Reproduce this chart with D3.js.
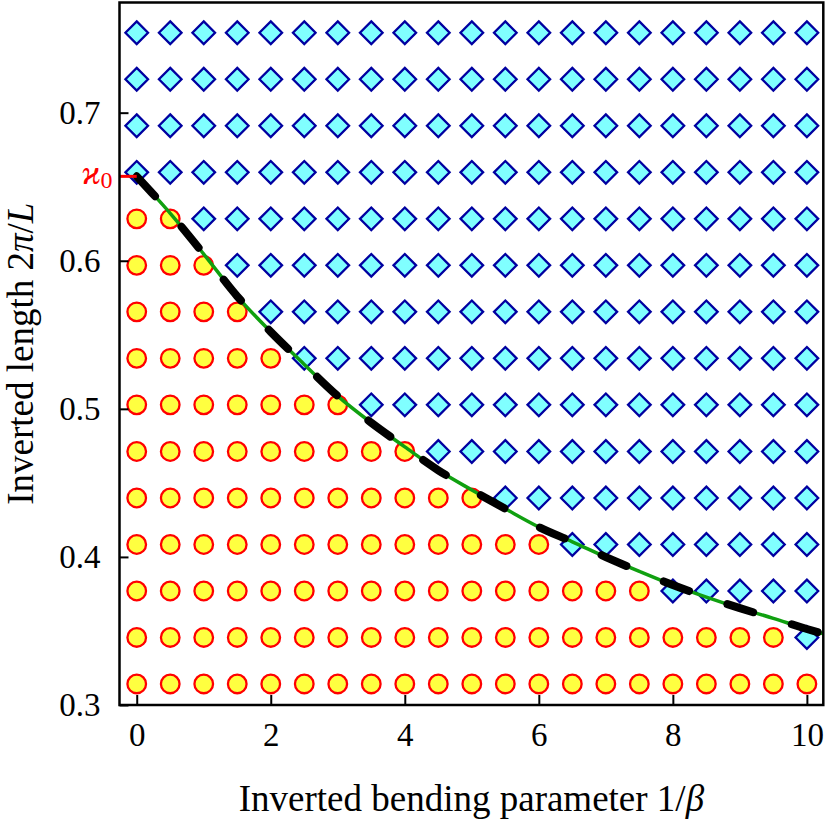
<!DOCTYPE html>
<html>
<head>
<meta charset="utf-8">
<script src="https://cdn.jsdelivr.net/npm/d3@7"></script>
<style>
  body { margin: 0; background: #fff; }
  svg text { font-family: "Liberation Serif", "DejaVu Serif", serif; }
</style>
</head>
<body>
<div id="chart"></div>
<script>
// grid of inverted bending parameter 1/beta
const invBeta = [0, 0.5, 1, 1.5, 2, 2.5, 3, 3.5, 4, 4.5, 5, 5.5, 6, 6.5, 7, 7.5, 8, 8.5, 9, 9.5, 10];
// grid of inverted lengths 2pi/L
const invLength = [0.3142, 0.3456, 0.3770, 0.4084, 0.4398, 0.4712, 0.5027, 0.5341,
                   0.5655, 0.5969, 0.6283, 0.6597, 0.6912, 0.7226, 0.7540];
// for each column: index of highest row drawn as circle (rest are diamonds)
const circleTopRow = [10, 10, 9, 8, 7, 6, 6, 5, 5, 4, 4, 3, 3, 2, 2, 2, 1, 1, 1, 1, 0];
// boundary curve
const curveX = [0, 0.5, 1, 1.5, 2, 2.5, 3, 3.5, 4, 4.5, 5, 5.5, 6, 6.5, 7, 7.5, 8, 8.5, 9, 9.5, 10, 10.3];
const curveY = [0.657, 0.632, 0.6045, 0.576, 0.552, 0.530, 0.5086, 0.4906, 0.4743, 0.4585, 0.4452,
                0.4325, 0.4202, 0.4102, 0.3999, 0.3902, 0.381, 0.3729, 0.3654, 0.3585, 0.3513, 0.3475];
const kappa0 = 0.657;
const xTicks = [0, 2, 4, 6, 8, 10];
const yTicks = [0.3, 0.4, 0.5, 0.6, 0.7];

const margin = {top: 2.5, right: 6.7, bottom: 121, left: 119.5},
    width = 830 - margin.left - margin.right,
    height = 826 - margin.top - margin.bottom;

const x = d3.scaleLinear().domain([-0.257, 10.245]).range([0, width]);
const y = d3.scaleLinear().domain([0.3, 0.7744]).range([height, 0]);

const svg = d3.select("#chart")
    .append("svg")
    .attr("width", 830)
    .attr("height", 826)
    .append("g")
    .attr("transform", "translate(" + margin.left + "," + margin.top + ")");

svg.append("clipPath").attr("id", "clip")
    .append("rect").attr("width", width).attr("height", height);

// build points
const points = [];
invBeta.forEach(function (b, i) {
    invLength.forEach(function (k, j) {
        points.push({x: b, y: k, stable: j <= circleTopRow[i]});
    });
});

const plot = svg.append("g").attr("clip-path", "url(#clip)");

// diamonds
const ds = 11.3;
plot.selectAll(".dia")
    .data(points.filter(d => !d.stable))
    .enter().append("path")
    .attr("class", "dia")
    .attr("d", d => {
        const cx = x(d.x), cy = y(d.y);
        return "M" + cx + "," + (cy - ds) + "L" + (cx + ds) + "," + cy +
            "L" + cx + "," + (cy + ds) + "L" + (cx - ds) + "," + cy + "Z";
    })
    .style("fill", "#80ffff")
    .style("stroke", "#0000a0")
    .style("stroke-width", 2.3);

// circles
plot.selectAll(".circ")
    .data(points.filter(d => d.stable))
    .enter().append("circle")
    .attr("class", "circ")
    .attr("cx", d => x(d.x))
    .attr("cy", d => y(d.y))
    .attr("r", 9.3)
    .style("fill", "#ffff40")
    .style("stroke", "#ff0000")
    .style("stroke-width", 2.3);

const curve = curveX.map((v, i) => [v, curveY[i]]);
const line = d3.line()
    .x(d => x(d[0]))
    .y(d => y(d[1]))
    .curve(d3.curveMonotoneX);

plot.append("path")
    .attr("d", line(curve))
    .style("fill", "none")
    .style("stroke", "#10a010")
    .style("stroke-width", 3.5);

plot.append("path")
    .attr("d", line(curve))
    .style("fill", "none")
    .style("stroke", "#000")
    .style("stroke-width", 8)
    .style("stroke-linecap", "round")
    .style("stroke-dasharray", "27,40.5");

// kappa0 marker
svg.append("line")
    .attr("x1", 0).attr("x2", x(0))
    .attr("y1", y(kappa0)).attr("y2", y(kappa0))
    .style("stroke", "#ff0000")
    .style("stroke-width", 3);

const kl = svg.append("text")
    .attr("x", -7)
    .attr("y", y(kappa0) + 8)
    .attr("text-anchor", "end")
    .style("fill", "#ff0000")
    .style("font-size", "34px");
kl.append("tspan").style("font-style", "italic").text("ϰ");
kl.append("tspan").attr("dy", 4).style("font-size", "24px").text("0");

// axes
svg.append("g")
    .attr("class", "axis")
    .attr("transform", "translate(0," + height + ")")
    .call(d3.axisBottom(x).tickValues(xTicks).tickFormat(d3.format("d"))
        .tickSize(-10).tickSizeOuter(0).tickPadding(18));

svg.append("g")
    .attr("class", "axis")
    .call(d3.axisLeft(y).tickValues(yTicks).tickFormat(d3.format(".1f"))
        .tickSize(-9).tickSizeOuter(0).tickPadding(19));

svg.selectAll(".axis .domain").remove();
svg.selectAll(".axis line").style("stroke", "#000").style("stroke-width", 2);
svg.selectAll(".axis text")
    .style("font-family", "'Liberation Serif', serif")
    .style("font-size", "33px")
    .style("fill", "#000");

// frame
svg.append("rect")
    .attr("width", width)
    .attr("height", height)
    .style("fill", "none")
    .style("stroke", "#000")
    .style("stroke-width", 2.5);

// axis titles
const xt = svg.append("text")
    .attr("x", width / 2)
    .attr("y", height + 106)
    .attr("text-anchor", "middle")
    .style("font-size", "37px");
xt.append("tspan").text("Inverted bending parameter 1/");
xt.append("tspan").style("font-style", "italic").text("β");

const yt = svg.append("text")
    .attr("transform", "translate(" + (-86.5) + "," + (height / 2) + ") rotate(-90)")
    .attr("text-anchor", "middle")
    .style("font-size", "37px");
yt.append("tspan").text("Inverted length 2");
yt.append("tspan").style("font-style", "italic").text("π");
yt.append("tspan").text("/");
yt.append("tspan").style("font-style", "italic").text("L");
</script>
</body>
</html>
